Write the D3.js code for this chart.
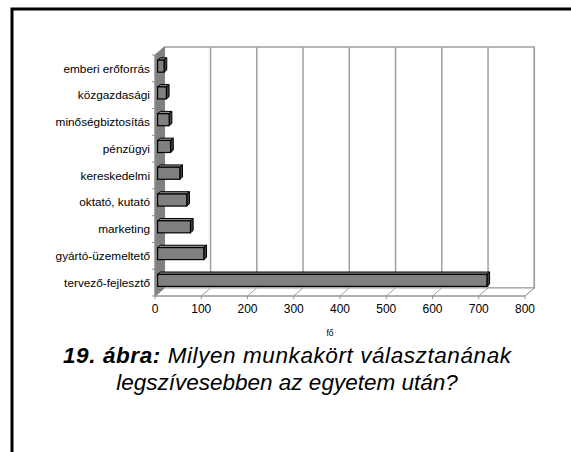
<!DOCTYPE html>
<html><head><meta charset="utf-8">
<script src="https://cdn.jsdelivr.net/npm/d3@7"></script>
<style>
html,body{margin:0;padding:0;background:#fff;}
svg{display:block;}
</style></head>
<body>
<svg id="chart" width="571" height="452"></svg>
<script>
const categories = ["emberi erőforrás","közgazdasági","minőségbiztosítás","pénzügyi","kereskedelmi","oktató, kutató","marketing","gyártó-üzemeltető","tervező-fejlesztő"];
const values = [14,19,25,28,48,63,71,100,712];
const xTicks = [0,100,200,300,400,500,600,700,800];
const axisTitle = "fő";
const captionBold = "19. ábra:";
const captionLine1 = " Milyen munkakört választanának";
const captionLine2 = "legszívesebben az egyetem után?";

const svg = d3.select("#chart");
const font = "Liberation Sans, Arial, sans-serif";

// frame
svg.append("path").attr("d","M12,460 L12,9 L580,9").attr("fill","none").attr("stroke","#000").attr("stroke-width",3);

const DX = 9.3, DY = -8;
const x = d3.scaleLinear().domain([0,800]).range([155,525]);
const y = d3.scaleBand().domain(categories).range([55,296]).paddingInner(0.55).paddingOuter(0.275);
const band = d3.scaleBand().domain(categories).range([55,296]);
const x0 = x(0), x1 = x(800), yT = 55, yB = 296;

const g = svg.append("g");
const grid = "#a0a0a0";
// back wall
g.append("rect").attr("x",x0+DX).attr("y",yT+DY).attr("width",x1-x0).attr("height",yB-yT).attr("fill","#fff").attr("stroke",grid).attr("stroke-width",1.5);
// grid lines on back wall
g.selectAll(".gl").data(xTicks).enter().append("line")
  .attr("x1",d=>x(d)+DX).attr("x2",d=>x(d)+DX).attr("y1",yT+DY).attr("y2",yB+DY)
  .attr("stroke",grid).attr("stroke-width",1.5);
// floor
g.append("path").attr("d",`M${x0},${yB} L${x1},${yB} L${x1+DX},${yB+DY} L${x0+DX},${yB+DY} Z`).attr("fill","#fff").attr("stroke",grid).attr("stroke-width",1);
g.selectAll(".fl").data(xTicks).enter().append("line")
  .attr("x1",d=>x(d)).attr("x2",d=>x(d)+DX).attr("y1",yB).attr("y2",yB+DY)
  .attr("stroke",grid).attr("stroke-width",1);
// side wall
g.append("path").attr("d",`M${x0},${yT} L${x0+DX},${yT+DY} L${x0+DX},${yB+DY} L${x0},${yB} Z`).attr("fill","#808080").attr("stroke","#808080").attr("stroke-width",1);
// x axis front line and ticks
g.append("line").attr("x1",x0).attr("x2",x1).attr("y1",yB).attr("y2",yB).attr("stroke","#909090").attr("stroke-width",1);
g.selectAll(".xt").data(xTicks).enter().append("line")
  .attr("x1",d=>x(d)).attr("x2",d=>x(d)).attr("y1",yB).attr("y2",yB+3).attr("stroke","#909090");
// y axis line and ticks
g.append("line").attr("x1",x0).attr("x2",x0).attr("y1",yT).attr("y2",yB).attr("stroke","#909090");
const bounds = categories.map(c=>band(c)).concat([yB]);
g.selectAll(".yt").data(bounds).enter().append("line")
  .attr("x1",x0-3).attr("x2",x0).attr("y1",d=>d).attr("y2",d=>d).attr("stroke","#909090");

// bars
const f1 = 0.28, f2 = 0.57;
const bars = g.selectAll(".bar").data(categories.map((c,i)=>({c,v:values[i]}))).enter().append("g");
bars.each(function(d){
  const s = d3.select(this);
  const bx0 = x(0)+f1*DX, bx1 = x(d.v)+f1*DX;
  const by0 = y(d.c)+f1*DY, by1 = by0 + y.bandwidth();
  const ox = (f2-f1)*DX, oy = (f2-f1)*DY;
  s.append("path").attr("d",`M${bx0},${by0} L${bx0+ox},${by0+oy} L${bx1+ox},${by0+oy} L${bx1},${by0} Z`).attr("fill","#8c8c8c").attr("stroke","#000").attr("stroke-width",1).attr("stroke-linejoin","round");
  s.append("path").attr("d",`M${bx1},${by0} L${bx1+ox},${by0+oy} L${bx1+ox},${by1+oy} L${bx1},${by1} Z`).attr("fill","#404040").attr("stroke","#000").attr("stroke-width",1).attr("stroke-linejoin","round");
  s.append("rect").attr("x",bx0).attr("y",by0).attr("width",bx1-bx0).attr("height",by1-by0).attr("fill","#808080").attr("stroke","#000").attr("stroke-width",1.2);
});

// category labels
g.selectAll(".cl").data(categories).enter().append("text")
  .attr("x",150).attr("y",c=>band(c)+band.bandwidth()/2).attr("dy","0.35em")
  .attr("text-anchor","end").attr("font-family",font).attr("font-size",11.8).text(c=>c);
// tick labels
g.selectAll(".tl").data(xTicks).enter().append("text")
  .attr("x",d=>x(d)).attr("y",313).attr("text-anchor","middle")
  .attr("font-family",font).attr("font-size",12).text(d=>d);
// axis title
g.append("text").attr("x",330).attr("y",336).attr("text-anchor","middle").attr("font-family",font).attr("font-size",8.5).text(axisTitle);

// caption
const t1 = svg.append("text").attr("x",287).attr("y",363).attr("text-anchor","middle").attr("font-family",font).attr("font-size",22.5).attr("font-style","italic")
  .attr("textLength",448).attr("lengthAdjust","spacing");
t1.append("tspan").attr("font-weight","bold").text(captionBold);
t1.append("tspan").text(captionLine1);
svg.append("text").attr("x",287).attr("y",390).attr("text-anchor","middle").attr("font-family",font).attr("font-size",22.5).attr("font-style","italic").text(captionLine2);
</script>
</body></html>
